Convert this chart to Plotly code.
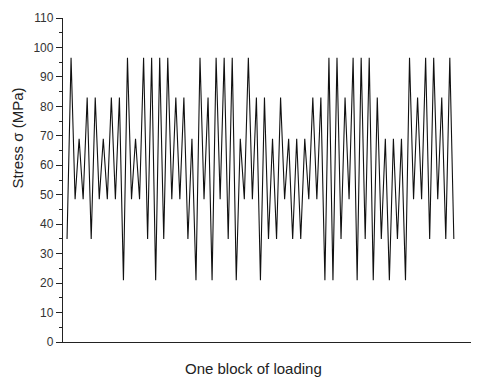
import plotly.graph_objects as go

# Stress sequence (MPa) for one block of loading
stress = [
    35, 96.5, 48.5, 69, 48.5, 83, 35, 83, 48.5, 69,
    48.5, 83, 48.5, 83, 21, 96.5, 48.5, 69, 48.5, 96.5,
    35, 96.5, 21, 96.5, 35, 96.5, 48.5, 83, 48.5, 83,
    35, 69, 21, 96.5, 48.5, 83, 21, 96.5, 48.5, 96.5,
    35, 96.5, 21, 69, 48.5, 96.5, 48.5, 83, 21, 83,
    35, 69, 35, 83, 48.5, 69, 35, 69, 35, 69,
    48.5, 83, 48.5, 83, 21, 96.5, 21, 96.5, 35, 83,
    48.5, 96.5, 21, 96.5, 35, 96.5, 21, 83, 35, 69,
    21, 69, 35, 69, 21, 96.5, 48.5, 83, 48.5, 96.5,
    35, 96.5, 48.5, 83, 35, 96.5, 35,
]
step = list(range(len(stress)))

y_ticks = [0, 10, 20, 30, 40, 50, 60, 70, 80, 90, 100, 110]
x_title = "One block of loading"
y_title = "Stress σ (MPa)"

FONT = "Liberation Sans, Arial, sans-serif"

fig = go.Figure()
fig.add_trace(go.Scatter(
    x=step, y=stress, mode="lines",
    line=dict(color="#111111", width=1.1),
    showlegend=False, hoverinfo="skip",
))

fig.update_layout(
    width=471, height=374,
    margin=dict(l=55, r=3, t=7, b=40),
    paper_bgcolor="white", plot_bgcolor="white",
    font=dict(family=FONT, size=12, color="#333333"),
    xaxis=dict(
        range=[-1, 101.5], showgrid=False, zeroline=False,
        showline=True, linecolor="#222222", linewidth=1.3,
        showticklabels=False, ticks="",
    ),
    yaxis=dict(
        range=[0, 110], showgrid=False, zeroline=False,
        showline=True, linecolor="#222222", linewidth=1.3,
        tickvals=y_ticks, ticktext=[str(v) for v in y_ticks],
        ticks="outside", ticklen=6, tickwidth=1.2, tickcolor="#222222",
        minor=dict(ticks="outside", ticklen=3, dtick=5, tickwidth=1.2,
                   tickcolor="#222222", showgrid=False),
        tickfont=dict(size=12, color="#333333"),
    ),
    annotations=[
        dict(text=x_title, xref="paper", yref="paper",
             x=(253 - 63) / 413, y=-27 / 327, xanchor="center", yanchor="middle",
             showarrow=False, font=dict(size=15, color="#222222")),
        dict(text=y_title, xref="paper", yref="paper",
             x=-46 / 413, y=(342.5 - 137) / 327, xanchor="center", yanchor="middle",
             textangle=-90, showarrow=False, font=dict(size=15, color="#222222")),
    ],
)

fig.write_html("out.html")
